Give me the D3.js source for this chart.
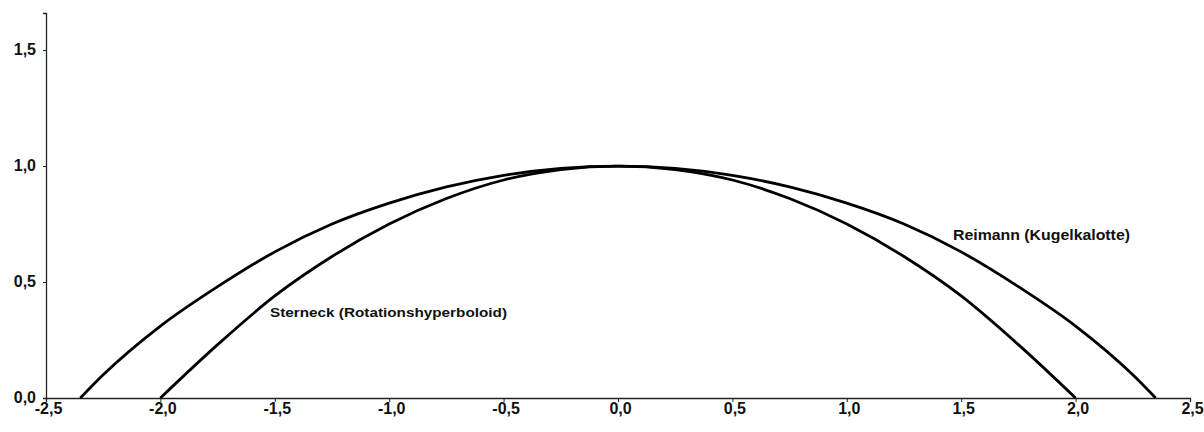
<!DOCTYPE html>
<html>
<head>
<meta charset="utf-8">
<script src="https://cdn.jsdelivr.net/npm/d3@7"></script>
<style>
  html, body { margin: 0; padding: 0; background: #fff; }
  svg { display: block; }
  text { font-family: "Liberation Sans", Arial, sans-serif; fill: #111; }
</style>
</head>
<body>
<svg id="chart" width="1204" height="432"></svg>
<script>
// ---- data ----
const xTicks = [-2.5, -2.0, -1.5, -1.0, -0.5, 0.0, 0.5, 1.0, 1.5, 2.0, 2.5];
const yTicks = [0.0, 0.5, 1.0, 1.5];

const reimannX = [-2.35, -2.25, -2.0, -1.75, -1.5, -1.25, -1.0, -0.75, -0.5, -0.25, 0.0,
                  0.25, 0.5, 0.75, 1.0, 1.25, 1.5, 1.75, 2.0, 2.25, 2.35];
const reimannY = [0.0, 0.10, 0.31, 0.48, 0.63, 0.75, 0.84, 0.91, 0.96, 0.99, 1.0,
                  0.99, 0.96, 0.91, 0.84, 0.75, 0.63, 0.48, 0.31, 0.10, 0.0];

const sterneckX = [-2.0, -1.75, -1.5, -1.25, -1.0, -0.75, -0.5, -0.25, 0.0,
                   0.25, 0.5, 0.75, 1.0, 1.25, 1.5, 1.75, 2.0];
const sterneckY = [0.0, 0.23, 0.44, 0.61, 0.75, 0.86, 0.94, 0.985, 1.0,
                   0.985, 0.94, 0.86, 0.75, 0.61, 0.44, 0.23, 0.0];

const labelReimann = "Reimann (Kugelkalotte)";
const labelSterneck = "Sterneck (Rotationshyperboloid)";
const fmt = d => d3.format(".1f")(d).replace(".", ",").replace("\u2212", "-");

// ---- layout ----
const svg = d3.select("#chart");
const x = d3.scaleLinear().domain([-2.5, 2.5]).range([46, 1190]);
const y = d3.scaleLinear().domain([0, 1.66]).range([398, 13]);

const tickFont = g => g.selectAll("text")
  .style("font-family", '"Liberation Sans", Arial, sans-serif')
  .style("font-size", "16px").style("font-weight", "bold").attr("fill", "#111");

// x axis
const gx = svg.append("g").attr("transform", `translate(0,${y(0)})`)
  .call(d3.axisBottom(x).tickValues(xTicks).tickSize(4).tickFormat(fmt))
  .call(tickFont);
gx.select(".domain").attr("stroke", "#222").attr("stroke-width", 1.3);
gx.selectAll(".tick line").attr("stroke", "#222");
gx.selectAll(".tick text").attr("y", 16).attr("dy", "0").attr("dx", 2);

// y axis
const gy = svg.append("g").attr("transform", `translate(${x(-2.5)},0)`)
  .call(d3.axisLeft(y).tickValues(yTicks).tickSize(3).tickPadding(7).tickFormat(fmt))
  .call(tickFont);
gy.select(".domain").attr("stroke", "#222").attr("stroke-width", 1.3);
gy.selectAll(".tick line").attr("stroke", "#222");
gy.selectAll(".tick text").attr("dy", "0.3em");

// curves
const line = d3.line().x(d => x(d[0])).y(d => y(d[1])).curve(d3.curveMonotoneX);
const reimann = reimannX.map((v, i) => [v, reimannY[i]]);
const sterneck = sterneckX.map((v, i) => [v, sterneckY[i]]);

svg.append("path").datum(reimann).attr("d", line)
  .attr("fill", "none").attr("stroke", "#000").attr("stroke-width", 2.8);
svg.append("path").datum(sterneck).attr("d", line)
  .attr("fill", "none").attr("stroke", "#000").attr("stroke-width", 2.8);

// annotations
svg.append("text").attr("x", 953).attr("y", 240)
  .attr("textLength", 177).attr("lengthAdjust", "spacingAndGlyphs")
  .style("font-size", "14px").style("font-weight", "bold")
  .text(labelReimann);
svg.append("text").attr("x", 270).attr("y", 317)
  .attr("textLength", 237).attr("lengthAdjust", "spacingAndGlyphs")
  .style("font-size", "13.5px").style("font-weight", "bold")
  .text(labelSterneck);
</script>
</body>
</html>
